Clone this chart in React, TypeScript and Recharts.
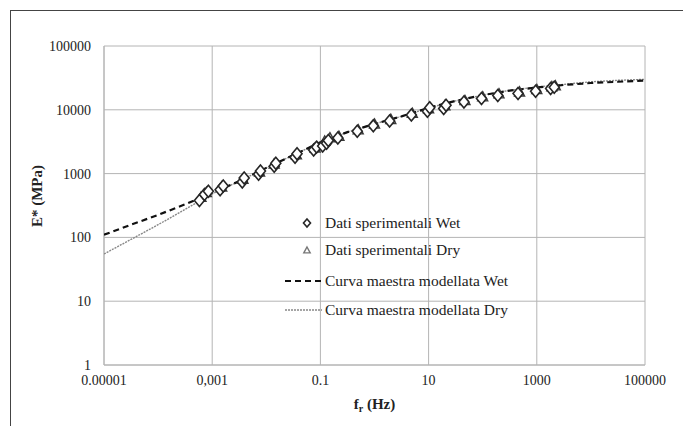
import { CartesianGrid, Scatter, ScatterChart, XAxis, YAxis } from "recharts";

const X_TICKS = [0.00001, 0.001, 0.1, 10, 1000, 100000];
const X_TICK_LABELS = ["0.00001", "0,001", "0.1", "10", "1000", "100000"];
const Y_TICKS = [1, 10, 100, 1000, 10000, 100000];
const Y_TICK_LABELS = ["1", "10", "100", "1000", "10000", "100000"];

// experimental points (reduced frequency Hz, |E*| MPa)
const wetFreq = [
  0.00058, 0.00072, 0.00085, 0.0014, 0.0016, 0.0036, 0.0039, 0.0072, 0.0078,
  0.014, 0.015, 0.034, 0.037, 0.075, 0.085, 0.11, 0.13, 0.14, 0.21, 0.48, 0.95,
  1.9, 4.8, 9.5, 10.5, 19, 21, 45, 95, 190, 450, 950, 1800, 2100,
];
const wetModulus = [
  380, 470, 530, 560, 640, 740, 850, 980, 1100, 1300, 1450, 1800, 2050, 2350,
  2600, 2700, 3000, 3300, 3600, 4600, 5600, 6700, 8300, 9500, 10800, 10500,
  11800, 13200, 15000, 16800, 18000, 19500, 21500, 22500,
];
const dryFreq = [
  0.00062, 0.00078, 0.0015, 0.0037, 0.0075, 0.014, 0.036, 0.08, 0.12, 0.15,
  0.22, 0.5, 1.0, 2.0, 5.0, 10, 20, 47, 100, 200, 480, 1000, 1900, 2200,
];
const dryModulus = [
  420, 500, 610, 810, 1050, 1400, 1950, 2500, 3200, 3600, 3800, 4800, 5900,
  7000, 8700, 10300, 11500, 13800, 15800, 17600, 18800, 20500, 22800, 23500,
];

// master curves
const curveFreq = [
  0.00001, 0.0000316, 0.0001, 0.000316, 0.001, 0.00316, 0.01, 0.0316, 0.1,
  0.316, 1, 3.16, 10, 31.6, 100, 316, 1000, 3162, 10000, 31623, 100000,
];
const wetCurve = [
  110, 158, 225, 330, 500, 760, 1230, 1950, 3100, 4470, 6000, 7900, 10700,
  13800, 17000, 20000, 22400, 24500, 26300, 27500, 28800,
];
const dryCurve = [
  55, 93, 158, 275, 480, 760, 1230, 1950, 3100, 4470, 6000, 7900, 10700,
  13800, 17000, 20200, 22800, 25000, 27500, 29000, 30000,
];

const zip = (f: number[], e: number[]) => f.map((x, i) => ({ f: x, e: e[i] }));
const wetPoints = zip(wetFreq, wetModulus);
const dryPoints = zip(dryFreq, dryModulus);
const wetLine = zip(curveFreq, wetCurve);
const dryLine = zip(curveFreq, dryCurve);

// minor tick marks, 2..9 in every decade
const MULT = [2, 3, 4, 5, 6, 7, 8, 9];
const X_MINOR = [0.00001, 0.0001, 0.001, 0.01, 0.1, 1, 10, 100, 1000, 10000].flatMap((d) =>
  MULT.map((m) => m * d)
);
const Y_MINOR = [1, 10, 100, 1000, 10000].flatMap((d) => MULT.map((m) => m * d));

const FONT = "'Liberation Serif', 'Times New Roman', serif";
const GRID = "#b4b4b4";

const pick = (ticks: number[], labels: string[]) => (v: number) => {
  const i = ticks.findIndex((t) => Math.abs(Math.log10(t) - Math.log10(v)) < 0.01);
  return i >= 0 ? labels[i] : "";
};

const Diamond = (p: any) => {
  const w = p.w ?? 5;
  const h = p.h ?? 6;
  return (
    <path
      d={`M${p.cx},${p.cy - h}L${p.cx + w},${p.cy}L${p.cx},${p.cy + h}L${p.cx - w},${p.cy}Z`}
      fill="#fff"
      stroke="#262626"
      strokeWidth={1.6}
    />
  );
};

const Triangle = (p: any) => {
  const w = p.w ?? 5;
  return (
    <path
      d={`M${p.cx},${p.cy - w * 1.1}L${p.cx + w},${p.cy + w * 0.75}L${p.cx - w},${p.cy + w * 0.75}Z`}
      fill="#fff"
      stroke={p.stroke ?? "#3a3a3a"}
      strokeWidth={1.4}
    />
  );
};

const NoDot = () => <g />;

const YTitle = () => {
  const cy = 196;
  return (
    <text
      x={37}
      y={cy}
      transform={`rotate(-90 37 ${cy})`}
      textAnchor="middle"
      dominantBaseline="central"
      fontFamily={FONT}
      fontWeight="bold"
      fontSize={15}
      fill="#222"
    >
      E* (MPa)
    </text>
  );
};

const XTitle = ({ viewBox }: any) => (
  <text
    x={viewBox.x + viewBox.width / 2}
    y={409}
    textAnchor="middle"
    fontFamily={FONT}
    fontWeight="bold"
    fontSize={15}
    fill="#222"
  >
    <tspan>f</tspan>
    <tspan fontSize={10} dy={3}>r</tspan>
    <tspan dy={-3}> (Hz)</tspan>
  </text>
);

const legendRows = [
  { label: "Dati sperimentali Wet", kind: "diamond", y: 223 },
  { label: "Dati sperimentali Dry", kind: "triangle", y: 250 },
  { label: "Curva maestra modellata Wet", kind: "dash", y: 281 },
  { label: "Curva maestra modellata Dry", kind: "dot", y: 310 },
];

function LegendBox() {
  return (
    <>
      {legendRows.map((r) => (
        <div
          key={r.label}
          style={{
            position: "absolute",
            left: 284,
            top: r.y - 10,
            height: 20,
            display: "flex",
            alignItems: "center",
            fontFamily: FONT,
            fontSize: 15.5,
            color: "#222",
            whiteSpace: "nowrap",
          }}
        >
          <svg width={40} height={20} style={{ display: "block" }}>
            {r.kind === "diamond" && <Diamond cx={23} cy={10} w={3.5} h={4} />}
            {r.kind === "triangle" && <Triangle cx={23} cy={10.5} w={3.2} stroke="#777" />}
            {r.kind === "dash" && (
              <line x1={1} x2={39} y1={10} y2={10} stroke="#111" strokeWidth={2.2} strokeDasharray="6 4" />
            )}
            {r.kind === "dot" && (
              <line x1={1} x2={38} y1={10} y2={10} stroke="#888" strokeWidth={1.4} strokeDasharray="2 1" />
            )}
          </svg>
          <span style={{ marginLeft: 1 }}>{r.label}</span>
        </div>
      ))}
    </>
  );
}

export default function App() {
  return (
    <div
      style={{
        position: "absolute",
        left: 0,
        top: 0,
        width: 683,
        height: 426,
        background: "#fff",
        overflow: "hidden",
      }}
    >
      <div
        style={{
          position: "absolute",
          left: 10,
          top: 10,
          width: 690,
          height: 430,
          borderTop: "1.5px solid #444",
          borderLeft: "1.5px solid #444",
        }}
      />
      <ScatterChart
        width={683}
        height={426}
        margin={{ top: 46, right: 38, bottom: 21, left: 0 }}
        style={{ position: "absolute", left: 0, top: 0 }}
      >
        <CartesianGrid stroke={GRID} strokeWidth={1} />
        <XAxis
          type="number"
          dataKey="f"
          scale="log"
          domain={[0.00001, 100000]}
          ticks={X_TICKS}
          allowDataOverflow
          height={40}
          axisLine={{ stroke: GRID }}
          tickLine={false}
          tickSize={4}
          tickMargin={6}
          tickFormatter={pick(X_TICKS, X_TICK_LABELS)}
          tick={{ fontFamily: FONT, fontSize: 14, fill: "#222" }}
          label={<XTitle />}
        />
        <XAxis
          xAxisId="minor"
          type="number"
          dataKey="f"
          scale="log"
          domain={[0.00001, 100000]}
          ticks={X_MINOR}
          allowDataOverflow
          height={0}
          mirror
          axisLine={false}
          tick={false}
          tickSize={3}
          tickLine={{ stroke: "#c4c4c4" }}
        />
        <YAxis
          type="number"
          dataKey="e"
          scale="log"
          domain={[1, 100000]}
          ticks={Y_TICKS}
          allowDataOverflow
          width={104}
          axisLine={{ stroke: GRID }}
          tickLine={false}
          tickSize={4}
          tickMargin={9}
          tickFormatter={pick(Y_TICKS, Y_TICK_LABELS)}
          tick={{ fontFamily: FONT, fontSize: 14, fill: "#222" }}
          label={<YTitle />}
        />
        <YAxis
          yAxisId="minor"
          type="number"
          dataKey="e"
          scale="log"
          domain={[1, 100000]}
          ticks={Y_MINOR}
          allowDataOverflow
          width={0}
          mirror
          axisLine={false}
          tick={false}
          tickSize={3}
          tickLine={{ stroke: "#c4c4c4" }}
        />
        <Scatter
          data={dryLine}
          shape={NoDot}
          line={{ stroke: "#888", strokeWidth: 1.4, strokeDasharray: "2 1" }}
          isAnimationActive={false}
        />
        <Scatter
          data={wetLine}
          shape={NoDot}
          line={{ stroke: "#111", strokeWidth: 2.2, strokeDasharray: "6 4" }}
          isAnimationActive={false}
        />
        <Scatter data={dryPoints} shape={Triangle} isAnimationActive={false} />
        <Scatter data={wetPoints} shape={Diamond} isAnimationActive={false} />
      </ScatterChart>
      <LegendBox />
    </div>
  );
}
